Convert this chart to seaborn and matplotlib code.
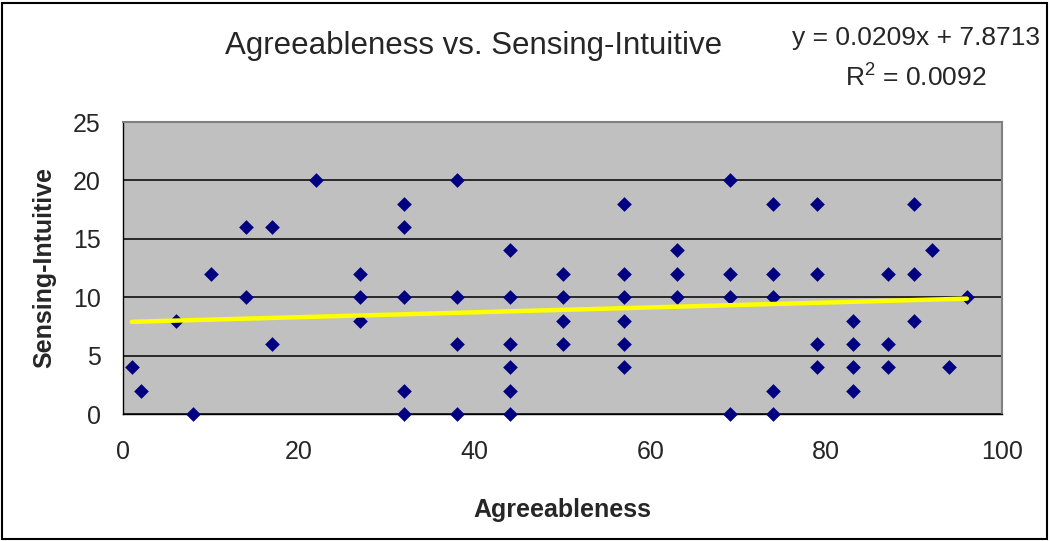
import matplotlib
matplotlib.use("Agg")
import matplotlib.pyplot as plt
from matplotlib.patches import Rectangle
import seaborn as sns
import pandas as pd
import numpy as np

# Agreeableness scores and the matching Sensing-Intuitive scores
agreeableness = [1, 2, 6, 8, 10,
                 14, 14, 17, 17, 22,
                 27, 27, 27,
                 32, 32, 32, 32, 32,
                 38, 38, 38, 38,
                 44, 44, 44, 44, 44, 44,
                 50, 50, 50, 50,
                 57, 57, 57, 57, 57, 57,
                 63, 63, 63,
                 69, 69, 69, 69,
                 74, 74, 74, 74, 74,
                 79, 79, 79, 79,
                 83, 83, 83, 83,
                 87, 87, 87,
                 90, 90, 90,
                 92, 94, 96]
sensing_intuitive = [4, 2, 8, 0, 12,
                     16, 10, 16, 6, 20,
                     12, 10, 8,
                     18, 16, 10, 2, 0,
                     20, 10, 6, 0,
                     14, 10, 6, 4, 2, 0,
                     12, 10, 8, 6,
                     18, 12, 10, 8, 6, 4,
                     14, 12, 10,
                     20, 12, 10, 0,
                     18, 12, 10, 2, 0,
                     18, 12, 6, 4,
                     8, 6, 4, 2,
                     12, 6, 4,
                     18, 12, 8,
                     14, 4, 10]

# Linear trend line reported on the chart
slope = 0.0209
intercept = 7.8713
r_squared = 0.0092

x_ticks = [0, 20, 40, 60, 80, 100]
y_ticks = [0, 5, 10, 15, 20, 25]

df = pd.DataFrame({"Agreeableness": agreeableness,
                   "Sensing-Intuitive": sensing_intuitive})
trend_x = np.array([min(agreeableness), max(agreeableness)])
trend = pd.DataFrame({"x": trend_x, "y": slope * trend_x + intercept})

sns.set_style("white")
plt.rcParams["font.family"] = ["Liberation Sans", "DejaVu Sans"]
plt.rcParams["mathtext.fontset"] = "custom"
plt.rcParams["mathtext.rm"] = "Liberation Sans"
plt.rcParams["mathtext.default"] = "regular"

W, H = 1050, 541
fig = plt.figure(figsize=(W / 100, H / 100), dpi=100)
left, right, top, bottom = 123, 1002, 122, 414
ax = fig.add_axes([left / W, (H - bottom) / H, (right - left) / W, (bottom - top) / H])
ax.set_facecolor("#C0C0C0")

# outer chart border
fig.patches.append(Rectangle((2 / W, 2 / H), (W - 5) / W, (H - 5) / H,
                             transform=fig.transFigure, fill=False,
                             edgecolor="black", linewidth=1.5))

sns.scatterplot(data=df, x="Agreeableness", y="Sensing-Intuitive", ax=ax,
                marker="D", s=56, color="#000080", linewidth=0, zorder=3,
                clip_on=False)
sns.lineplot(data=trend, x="x", y="y", ax=ax, color="#FFFF00",
             linewidth=3.2, zorder=4)

ax.set_xlim(0, 100)
ax.set_ylim(0, 25)
ax.set_xticks(x_ticks)
ax.set_yticks(y_ticks)
ax.yaxis.grid(True, color="black", linewidth=1.1)
ax.xaxis.grid(False)
ax.set_axisbelow(True)

ax.tick_params(axis="both", direction="out", length=6, width=1,
               color="black", labelsize=18)
ax.tick_params(axis="x", pad=13)
ax.tick_params(axis="y", pad=10)
for side in ("top", "right"):
    ax.spines[side].set_color("#808080")
    ax.spines[side].set_linewidth(1.5)
for side in ("left", "bottom"):
    ax.spines[side].set_color("black")
    ax.spines[side].set_linewidth(1)

ax.set_xlabel("Agreeableness", fontsize=18, fontweight="bold", labelpad=24)
ax.set_ylabel("Sensing-Intuitive", fontsize=18, fontweight="bold", labelpad=12)

fig.text(474 / W, 1 - 46 / H, "Agreeableness vs. Sensing-Intuitive",
         ha="center", va="center", fontsize=22.5)
fig.text(1040 / W, 1 - 38 / H, f"y = {slope:.4f}x + {intercept:.4f}",
         ha="right", va="center", fontsize=19)
fig.text(916 / W, 1 - 78 / H, f"R$^{{2}}$ = {r_squared:.4f}",
         ha="center", va="center", fontsize=19)

fig.savefig("out.png", dpi=100)
